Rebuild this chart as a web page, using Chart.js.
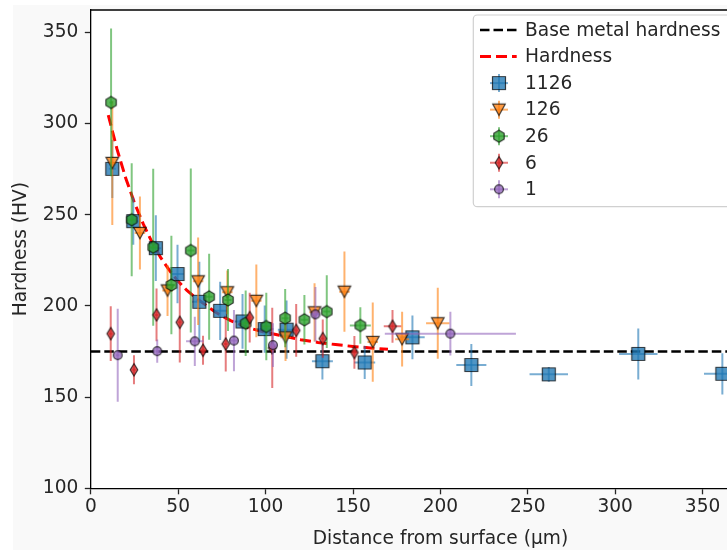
<!DOCTYPE html>
<html>
<head>
<meta charset="utf-8">
<script src="https://cdn.jsdelivr.net/npm/chart.js@4.4.1/dist/chart.umd.min.js"></script>
<style>
    html, body { margin: 0; padding: 0; background: #fff; overflow: hidden; }
    #wrap { position: relative; width: 800px; height: 553px; }
</style>
</head>
<body>
<div id="wrap"><canvas id="hardnessChart" width="800" height="553"></canvas></div>
<script>
// valores
const xTicks = [0, 50, 100, 150, 200, 250, 300, 350];
const yTicks = [100, 150, 200, 250, 300, 350];

const baseX = [0, 400];
const baseY = [175, 175];

const fitX = [10, 15, 20, 25, 30, 35, 40, 45, 50, 55, 60, 65, 70, 75, 80, 85, 90, 100, 110, 120, 130, 140, 150, 160, 170];
const fitY = [304.7, 286, 270, 256.5, 245, 235, 226.5, 219.5, 213.5, 208.5, 204.5, 201, 197.5, 194.5, 192, 190, 188, 185.5, 183.5, 181.5, 180, 178.8, 177.8, 177, 176.2];

const seriesNames = ['1126', '126', '26', '6', '1'];

const x1126 = [12.3, 24.3, 37.2, 49.6, 62.1, 74.0, 86.8, 99.5, 112.0, 132.5, 156.7, 184.0, 217.7, 262.0, 313.2, 361.3];
const y1126 = [275.2, 246.5, 231.7, 217.5, 202.3, 197.3, 191.5, 187.3, 187.0, 169.7, 169.0, 182.8, 167.6, 162.5, 173.7, 162.8];
const xe1126 = [2, 3, 3, 3.5, 4, 4, 4.5, 5, 5, 6, 6, 7, 8.6, 11, 11, 10.5];
const ye1126 = [16, 13, 18, 16, 22, 16, 15, 13, 16, 10, 9, 12, 11.5, 4, 14, 11.3];

const x126 = [12.3, 28.1, 43.9, 61.4, 78.1, 94.7, 111.4, 128.0, 145.1, 161.3, 178.1, 198.5];
const y126 = [278.4, 240.0, 208.5, 213.5, 207.5, 202.8, 182.8, 196.5, 207.8, 180.2, 181.8, 190.5];
const xe126 = [2, 3, 3, 3, 3, 3, 3, 3, 3, 3, 4, 6.7];
const ye126 = [34, 20, 14, 24, 12, 20, 13, 16, 22, 21.7, 15, 19.5];

const x26 = [11.6, 23.4, 35.7, 46.1, 57.2, 67.7, 78.5, 88.6, 100.4, 111.2, 122.2, 135.0, 154.2];
const y26 = [311.6, 247.3, 232.2, 211.5, 230.4, 205.0, 203.3, 190.5, 188.7, 193.3, 192.4, 196.9, 189.3];
const xe26 = [1, 2, 2, 2, 2, 2, 2, 2, 2, 2, 2, 2, 6];
const ye26 = [40.5, 31, 43, 27, 45, 23.6, 17, 18, 18.5, 16, 13.6, 20, 10];

const x6 = [11.4, 24.7, 37.6, 50.9, 64.2, 77.2, 90.9, 103.8, 117.5, 132.7, 150.8, 172.6];
const y6 = [184.8, 165.0, 195.1, 191.0, 175.7, 179.1, 193.6, 177.0, 186.6, 182.1, 174.5, 188.8];
const xe6 = [1, 1, 1, 1, 1, 1, 1, 1, 1, 1, 1, 5];
const ye6 = [15, 8, 14.5, 22, 8, 15, 13.6, 22, 14.5, 10.5, 9, 9];

const x1 = [15.4, 38.0, 59.5, 81.9, 104.2, 128.5, 205.7];
const y1 = [173.0, 175.2, 180.6, 181.0, 178.5, 195.4, 184.8];
const xe1 = [1, 1, 5, 2, 2, 2, 37.5];
const ye1 = [25.5, 6.4, 13.5, 16.8, 12, 15, 12];

const FONT = 'DejaVu Sans';
const FSIZE = 18.6;
const TEXT = '#262626';

function pts(xs, ys)
{
    return xs.map((v, i) => ({ x: v, y: ys[i] }));
}

// marcadores propios (hexagono y diamante fino no existen en Chart.js)
function makeMarker(shape, fill)
{
    const c = document.createElement('canvas');
    c.width = 18; c.height = 18;
    const g = c.getContext('2d');
    const m = 9;
    g.beginPath();
    if (shape === 'square') g.rect(m - 6.5, m - 6.5, 13, 13);
    else if (shape === 'tri')
    {
        g.moveTo(m - 6.3, m - 5.7); g.lineTo(m + 6.3, m - 5.7); g.lineTo(m, m + 5.7); g.closePath();
    }
    else if (shape === 'hex')
    {
        for (let k = 0; k < 6; k++)
        {
            const a = Math.PI / 3 * k;
            const px = m + 6 * Math.sin(a), py = m - 6 * Math.cos(a);
            if (k) g.lineTo(px, py); else g.moveTo(px, py);
        }
        g.closePath();
    }
    else if (shape === 'diamond')
    {
        g.moveTo(m, m - 6.2); g.lineTo(m + 3.8, m); g.lineTo(m, m + 6.2); g.lineTo(m - 3.8, m); g.closePath();
    }
    else g.arc(m, m, 4.4, 0, Math.PI * 2);
    g.fillStyle = fill; g.fill();
    g.lineWidth = 1.2; g.strokeStyle = 'rgba(0,0,0,0.72)'; g.stroke();
    return c;
}

function series(label, xs, ys, xe, ye, shape, rgb, order)
{
    const marker = makeMarker(shape, `rgba(${rgb},0.78)`);
    return {
        label: label,
        data: pts(xs, ys),
        xErr: xe,
        yErr: ye,
        errColor: `rgba(${rgb},0.6)`,
        pointStyle: marker,
        marker: marker,
        pointRadius: 9,
        order: order
    };
}

// barras de error, dibujadas antes de cada serie
const errorBars = {
    id: 'errorBars',
    beforeDatasetDraw(chart, args)
    {
        const ds = chart.data.datasets[args.index];
        if (!ds.yErr) return;
        const { ctx, chartArea: a, scales: { x, y } } = chart;
        ctx.save();
        ctx.beginPath(); ctx.rect(a.left, a.top, a.width, a.height); ctx.clip();
        ctx.strokeStyle = ds.errColor;
        ctx.lineWidth = 2;
        ds.data.forEach((p, i) =>
        {
            const px = x.getPixelForValue(p.x), py = y.getPixelForValue(p.y);
            ctx.beginPath();
            ctx.moveTo(x.getPixelForValue(p.x - ds.xErr[i]), py);
            ctx.lineTo(x.getPixelForValue(p.x + ds.xErr[i]), py);
            ctx.stroke();
            ctx.beginPath();
            ctx.moveTo(px, y.getPixelForValue(p.y - ds.yErr[i]));
            ctx.lineTo(px, y.getPixelForValue(p.y + ds.yErr[i]));
            ctx.stroke();
        });
        ctx.restore();
    }
};

const background = {
    id: 'background',
    beforeDraw(chart)
    {
        const { ctx, chartArea: a } = chart;
        ctx.save();
        ctx.fillStyle = '#f9f9f9';
        ctx.fillRect(13, 5, chart.width - 13, 545);
        ctx.fillStyle = '#fff';
        ctx.fillRect(a.left, a.top, a.width, a.height);
        ctx.restore();
    },
    beforeDatasetsDraw(chart)
    {
        const { ctx, chartArea: a } = chart;
        ctx.save();
        ctx.strokeStyle = '#000';
        ctx.lineWidth = 1.3;
        ctx.beginPath();
        ctx.moveTo(a.left, a.top); ctx.lineTo(a.right, a.top); ctx.lineTo(a.right, a.bottom);
        ctx.stroke();
        ctx.restore();
    }
};

// leyenda dentro del area, estilo matplotlib
const legendBox = {
    id: 'legendBox',
    afterDraw(chart)
    {
        const { ctx, chartArea: a } = chart;
        const x0 = 473.3, y0 = 15, x1b = a.right - 9, y1b = 206.7;
        ctx.save();
        ctx.beginPath();
        ctx.roundRect(x0, y0, x1b - x0, y1b - y0, 4);
        ctx.fillStyle = 'rgba(255,255,255,0.8)';
        ctx.fill();
        ctx.strokeStyle = '#d0d0d0';
        ctx.lineWidth = 1.2;
        ctx.stroke();
        ctx.font = `${FSIZE}px "${FONT}"`;
        ctx.textBaseline = 'middle';
        chart.data.datasets.forEach((ds, i) =>
        {
            const yy = 30 + i * 26.55;
            if (ds.showLine)
            {
                ctx.save();
                ctx.strokeStyle = ds.borderColor;
                ctx.lineWidth = ds.borderWidth;
                ctx.setLineDash(ds.borderDash);
                ctx.beginPath(); ctx.moveTo(480, yy); ctx.lineTo(516.7, yy); ctx.stroke();
                ctx.restore();
            } else
            {
                ctx.strokeStyle = ds.errColor;
                ctx.lineWidth = 2;
                ctx.beginPath(); ctx.moveTo(490, yy); ctx.lineTo(508, yy); ctx.stroke();
                ctx.beginPath(); ctx.moveTo(499, yy - 9); ctx.lineTo(499, yy + 9); ctx.stroke();
                ctx.drawImage(ds.marker, 499 - 9, yy - 9);
            }
            ctx.fillStyle = TEXT;
            ctx.fillText(ds.label, 525, yy + 1);
        });
        ctx.restore();
    }
};

const ctx = document.getElementById('hardnessChart').getContext('2d');

new Chart(ctx, {
    type: 'scatter',
    data: {
        datasets: [
            {
                label: 'Base metal hardness',
                data: pts(baseX, baseY),
                showLine: true,
                borderColor: '#000',
                borderWidth: 2.5,
                borderDash: [9.5, 4],
                pointRadius: 0,
                order: 11
            },
            {
                label: 'Hardness',
                data: pts(fitX, fitY),
                showLine: true,
                borderColor: '#ff0000',
                borderWidth: 3,
                borderDash: [11, 5],
                pointRadius: 0,
                order: 10
            },
            series(seriesNames[0], x1126, y1126, xe1126, ye1126, 'square', '31,119,180', 5),
            series(seriesNames[1], x126, y126, xe126, ye126, 'tri', '255,127,14', 4),
            series(seriesNames[2], x26, y26, xe26, ye26, 'hex', '44,160,44', 3),
            series(seriesNames[3], x6, y6, xe6, ye6, 'diamond', '214,39,40', 2),
            series(seriesNames[4], x1, y1, xe1, ye1, 'circle', '148,103,189', 1)
        ]
    },
    options: {
        responsive: false,
        animation: false,
        events: [],
        layout: { padding: { top: 5.7, right: 9.2, left: 0, bottom: 0 } },
        plugins: {
            legend: { display: false },
            tooltip: { enabled: false }
        },
        scales: {
            x: {
                type: 'linear',
                min: 0,
                max: 400,
                afterBuildTicks: s => { s.ticks = xTicks.map(v => ({ value: v })); },
                afterFit: s => { s.height = 64.7; s.paddingLeft = 0; s.paddingRight = 0; },
                grid: { drawOnChartArea: false, drawTicks: true, tickLength: 6, tickWidth: 1.3, tickColor: TEXT },
                border: { display: true, color: '#000', width: 1.3 },
                ticks: { font: { family: FONT, size: FSIZE }, color: TEXT, padding: 1.5, maxRotation: 0 },
                title: {
                    display: true,
                    text: 'Distance from surface (μm)',
                    font: { family: FONT, size: FSIZE },
                    color: TEXT,
                    padding: { top: 0, bottom: 2.5 }
                }
            },
            y: {
                type: 'linear',
                min: 100,
                max: 362.3,
                afterBuildTicks: s => { s.ticks = yTicks.map(v => ({ value: v })); },
                afterFit: s => { s.width = 90.8; s.paddingTop = 0; s.paddingBottom = 0; },
                grid: { drawOnChartArea: false, drawTicks: true, tickLength: 6, tickWidth: 1.3, tickColor: TEXT },
                border: { display: true, color: '#000', width: 1.3 },
                ticks: { font: { family: FONT, size: FSIZE }, color: TEXT, padding: 6.5 },
                title: {
                    display: true,
                    text: 'Hardness (HV)',
                    font: { family: FONT, size: FSIZE },
                    color: TEXT,
                    padding: { top: 10.5, bottom: 0 }
                }
            }
        }
    },
    plugins: [background, errorBars, legendBox]
});
</script>
</body>
</html>
